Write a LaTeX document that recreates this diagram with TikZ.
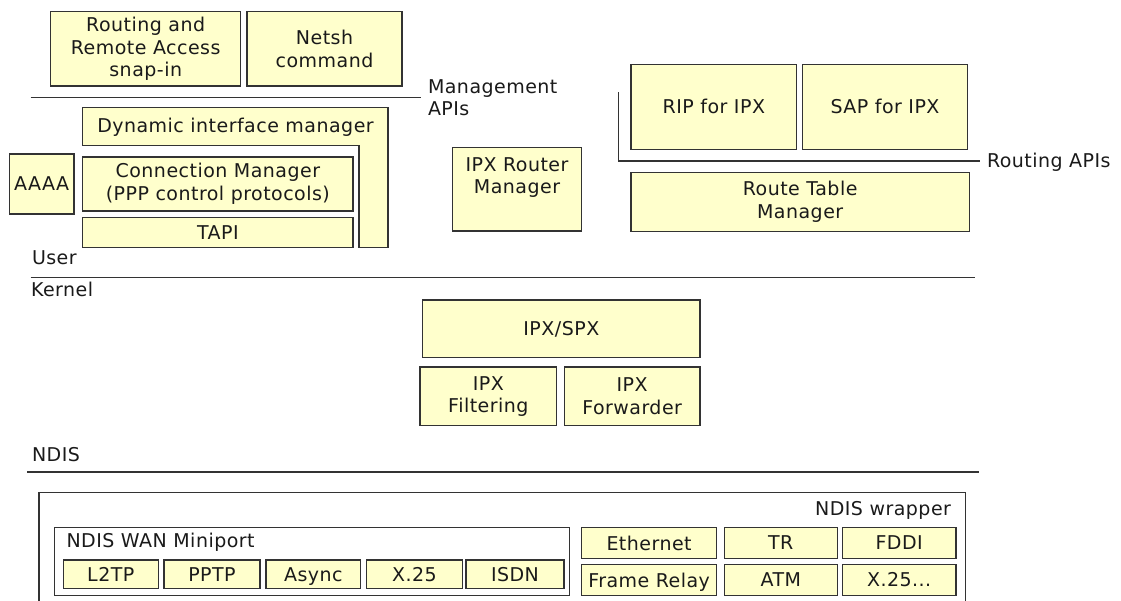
\documentclass[tikz,border=0pt]{standalone}
\usepackage{fontspec}
\setmainfont[LetterSpace=2.5]{DejaVu Sans}
\definecolor{boxfill}{RGB}{255,255,204}
\definecolor{edge}{RGB}{51,51,51}
\definecolor{ink}{RGB}{26,26,26}
\tikzset{
  txtfont/.style={font=\fontsize{19}{22.5}\selectfont, text=ink},
  boxn/.style={draw=edge, fill=boxfill, line width=1.4pt, inner sep=0pt, outer sep=0pt, align=center, txtfont},
  plainbox/.style={draw=edge, line width=1.4pt, inner sep=0pt, outer sep=0pt},
  lbl/.style={inner sep=0pt, outer sep=0pt, align=left, txtfont},
  sepline/.style={draw=edge, line width=1.4pt},
}
\begin{document}
\begin{tikzpicture}[x=1pt,y=-1pt]
\useasboundingbox[fill=white] (0,0) rectangle (1121,601);

% top management tools
\node[boxn, minimum width=190pt, minimum height=74.3pt] (snap) at (145.7,48.85) {Routing and\\Remote Access\\snap-in};
\node[boxn, minimum width=155pt, minimum height=74.3pt] (netsh) at (324.5,48.85) {Netsh\\command};

% management APIs line
\coordinate (mgL) at (30.7,97.5);
\coordinate (mgR) at (420.7,97.5);
\draw[sepline] (mgL) -- (mgR);
\node[lbl, anchor=north west] (mgapi) at (428,79.5) {Management\\APIs};

% dynamic interface manager (L-shape)
\draw[draw=edge, fill=boxfill, line width=1.4pt] (82.7,107.7) -- (388,107.7) -- (388,247.7) -- (359,247.7) -- (359,145.7) -- (82.7,145.7) -- cycle;
\node[lbl, align=center] (dim) at (235.5,127) {Dynamic interface manager};

\node[boxn, minimum width=64.7pt, minimum height=60pt] (aaaa) at (41.65,184) {AAAA};
\node[boxn, minimum width=270.3pt, minimum height=54pt] (conn) at (217.85,184) {Connection Manager\\(PPP control protocols)};
\node[boxn, minimum width=270.3pt, minimum height=30pt] (tapi) at (217.85,232.7) {TAPI};

% IPX router manager
\node[boxn, minimum width=129pt, minimum height=83.3pt] (iprm) at (517.2,189.35) {};
\node[lbl, align=center, anchor=north] (iprmt) at (517,157.5) {IPX Router\\Manager};

% routing protocols
\node[boxn, minimum width=165.7pt, minimum height=85pt] (rip) at (713.85,106.8) {RIP for IPX};
\node[boxn, minimum width=165.4pt, minimum height=85pt] (sap) at (885,106.8) {SAP for IPX};
\coordinate (raT) at (618.3,92.3);
\coordinate (raC) at (618.3,161);
\coordinate (raR) at (980,161);
\draw[sepline] (raT) -- (raC) -- (raR);
\node[lbl, anchor=base west] (raapi) at (987,167.3) {Routing APIs};
\node[boxn, minimum width=338.3pt, minimum height=59.4pt] (rtm) at (800.15,202) {Route Table\\Manager};

% user / kernel
\node[lbl, anchor=base west] (user) at (32,265) {User};
\coordinate (ukL) at (30.7,277.3);
\coordinate (ukR) at (975,277.3);
\draw[sepline] (ukL) -- (ukR);
\node[lbl, anchor=base west] (kernel) at (31,297) {Kernel};

% kernel components
\node[boxn, minimum width=277.3pt, minimum height=57.7pt] (ipxspx) at (561.35,328.85) {IPX/SPX};
\node[boxn, minimum width=136.7pt, minimum height=58.7pt] (filt) at (488.35,396.35) {IPX\\Filtering};
\node[boxn, minimum width=135.7pt, minimum height=58.7pt] (fwd) at (632.15,396.35) {IPX\\Forwarder};

% NDIS
\node[lbl, anchor=base west] (ndis) at (32,461.5) {NDIS};
\coordinate (ndL) at (27,472);
\coordinate (ndR) at (979,472);
\draw[sepline] (ndL) -- (ndR);

% NDIS wrapper (open at the bottom)
\coordinate (wBL) at (39,603);
\coordinate (wTL) at (39,492.3);
\coordinate (wTR) at (965.7,492.3);
\coordinate (wBR) at (965.7,603);
\draw[sepline] (wBL) -- (wTL) -- (wTR) -- (wBR);
\node[lbl, anchor=base east] (wrap) at (951,515) {NDIS wrapper};

% NDIS WAN miniport
\node[plainbox, minimum width=515.2pt, minimum height=68.4pt] (mini) at (311.9,561.5) {};
\node[lbl, anchor=base west] (minit) at (66.5,547) {NDIS WAN Miniport};
\node[boxn, minimum width=95pt, minimum height=28.5pt] (l2tp) at (110.8,574.25) {L2TP};
\node[boxn, minimum width=96pt, minimum height=28.5pt] (pptp) at (212,574.25) {PPTP};
\node[boxn, minimum width=94.7pt, minimum height=28.5pt, text depth=0pt] (async) at (313.35,574.25) {Async};
\node[boxn, minimum width=95.6pt, minimum height=28.5pt] (x25a) at (414.5,574.25) {X.25};
\node[boxn, minimum width=98pt, minimum height=28.5pt] (isdn) at (515,574.25) {ISDN};

% LAN / WAN media
\node[boxn, minimum width=135.2pt, minimum height=30.6pt] (eth) at (649.1,543) {Ethernet};
\node[boxn, minimum width=113pt, minimum height=30.6pt] (tr) at (780.8,543) {TR};
\node[boxn, minimum width=113.7pt, minimum height=30.6pt] (fddi) at (899.15,543) {FDDI};
\node[boxn, minimum width=135.2pt, minimum height=31.4pt, text depth=0pt] (fr) at (649.1,580) {Frame Relay};
\node[boxn, minimum width=113pt, minimum height=31.4pt] (atm) at (780.8,580) {ATM};
\node[boxn, minimum width=113.7pt, minimum height=31.4pt] (x25b) at (899.15,580) {X.25...};
\end{tikzpicture}
\end{document}
